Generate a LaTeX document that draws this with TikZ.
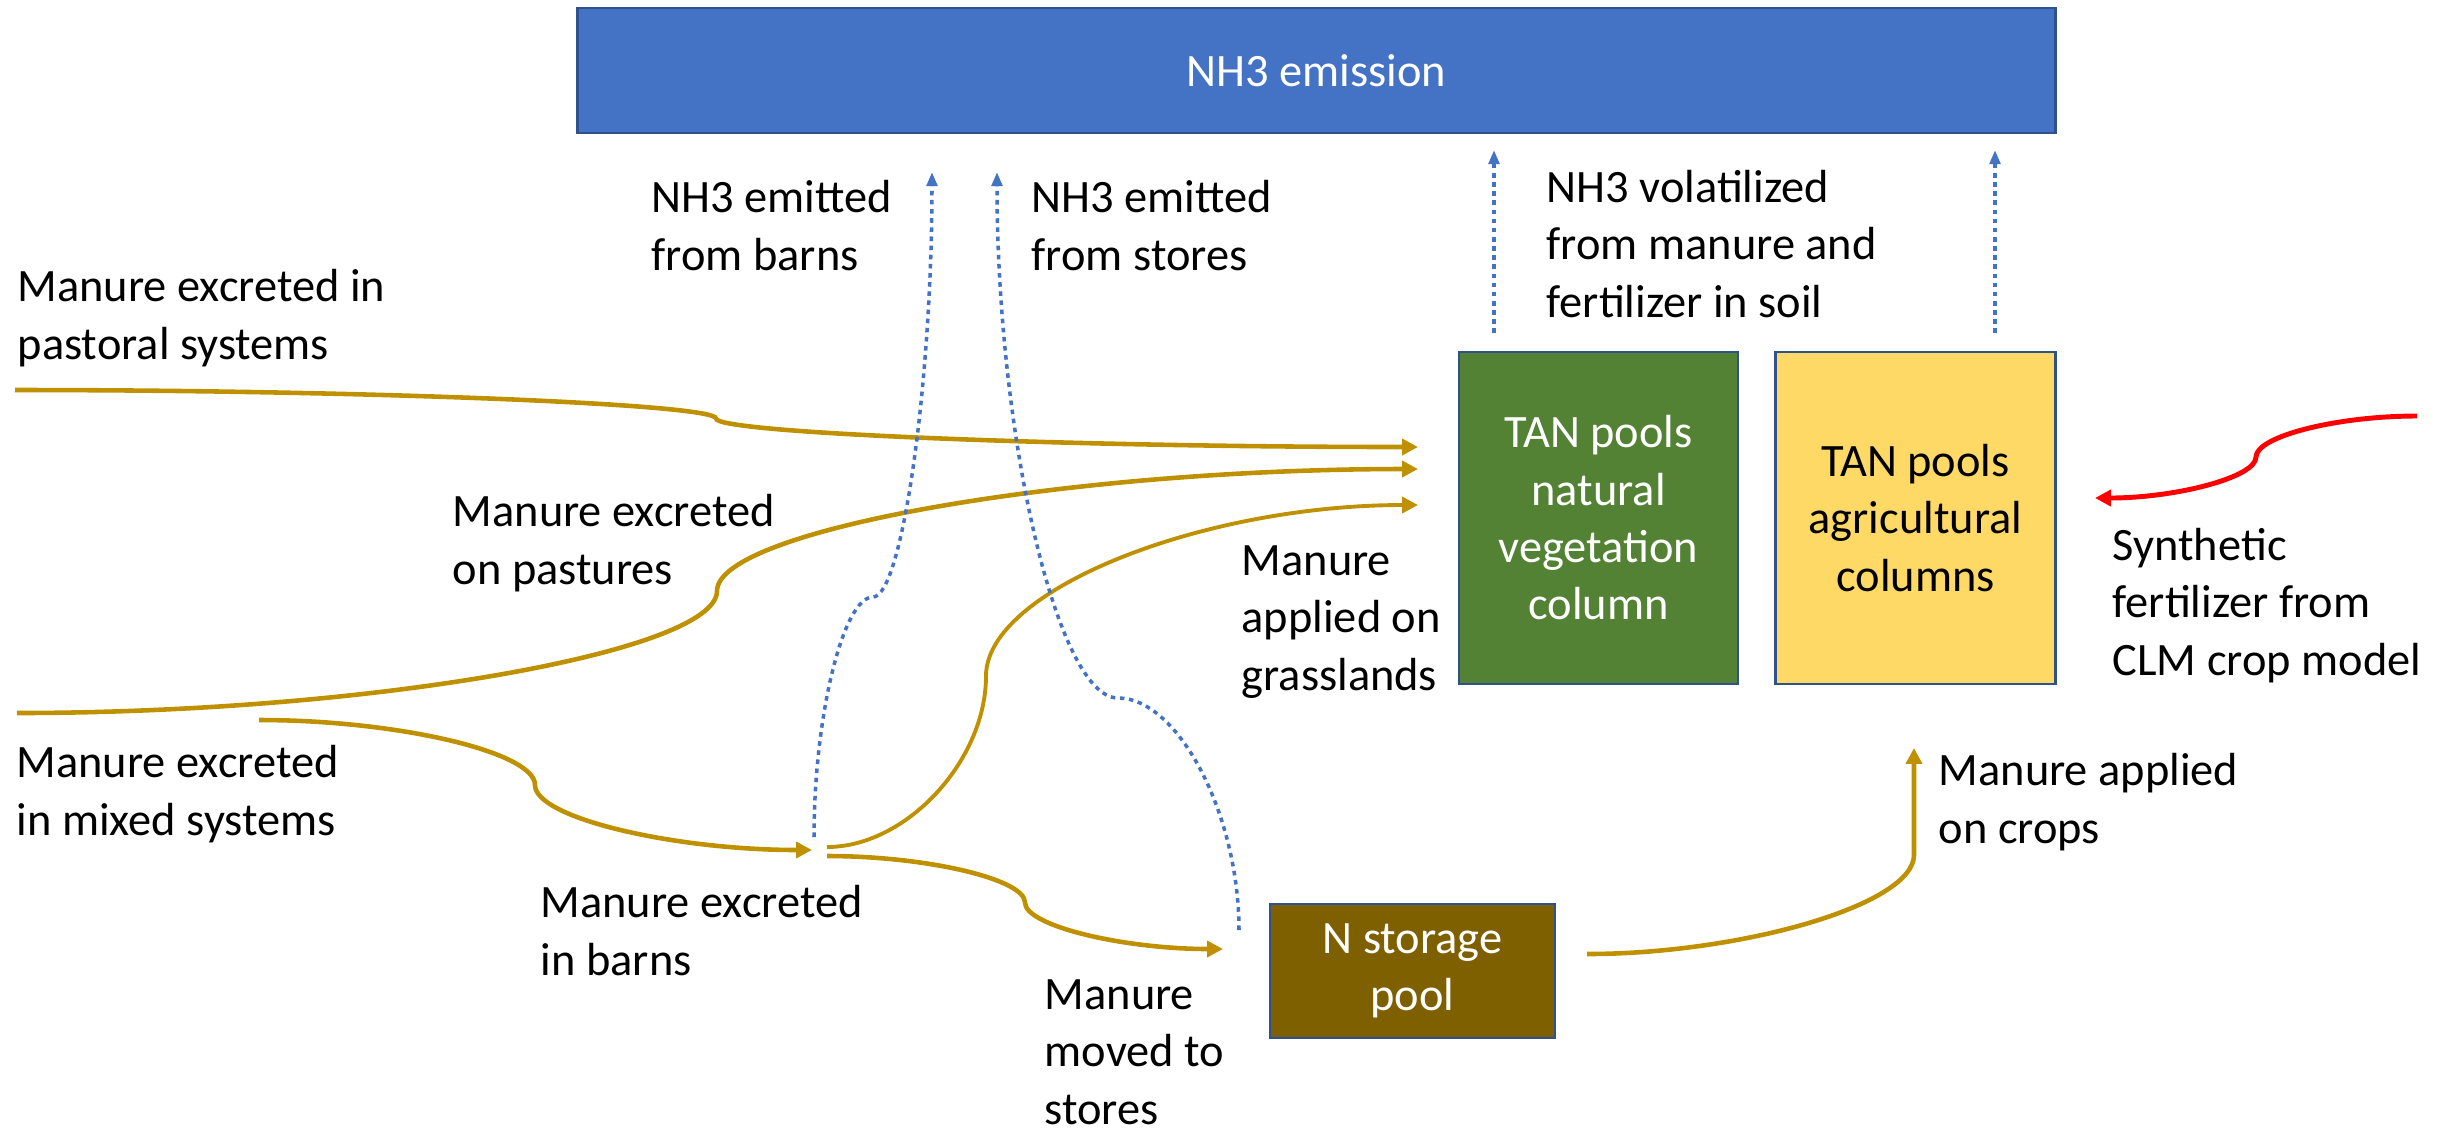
\documentclass[tikz,border=0pt]{standalone}
\usepackage{fontspec}
\setmainfont{Carlito}
\usepackage{xcolor}
\usepackage{tikz}
\usetikzlibrary{arrows.meta}

\definecolor{emisblue}{HTML}{4472C4}
\definecolor{edgeblue}{HTML}{2F528F}
\definecolor{natgreen}{HTML}{548235}
\definecolor{agyellow}{HTML}{FFD966}
\definecolor{storebrown}{HTML}{7F6000}
\definecolor{flowgold}{HTML}{BF9000}
\definecolor{fertred}{HTML}{FF0000}

\begin{document}
\begin{tikzpicture}[x=0.01cm,y=-0.01cm,
		every node/.style={font=\fontsize{13.2}{16.3}\selectfont},
		pool/.style={draw=edgeblue,line width=0.7pt,align=center,inner sep=0pt},
		lbl/.style={anchor=base west,align=left,inner sep=0pt},
		manure/.style={draw=flowgold,line width=1.3pt,-{Triangle[length=4.5pt,width=4.5pt]}},
		gas/.style={draw=emisblue,line width=1pt,dash pattern=on 1.3pt off 1.3pt,-{Triangle[length=4pt,width=3pt]}},
		fert/.style={draw=fertred,line width=1.4pt,-{Triangle[length=4.5pt,width=4.5pt]}}]
		
		\useasboundingbox (0,0) rectangle (2453,1132);
		
		% pools
		\node[pool,fill=emisblue,text=white,minimum width=14.77cm,minimum height=1.25cm] (emission) at (1316.5,70.5) {NH3 emission};
		\node[pool,fill=natgreen,text=white,minimum width=2.79cm,minimum height=3.32cm] (tanNat) at (1598.5,518) {TAN pools\\natural\\vegetation\\column};
		\node[pool,fill=agyellow,minimum width=2.8cm,minimum height=3.32cm] (tanAg) at (1915.5,518) {TAN pools\\agricultural\\columns};
		\node[pool,fill=storebrown,text=white,minimum width=2.85cm,minimum height=1.34cm] (storage) at (1412.5,971) {N storage\\pool};
		
		% labels (placed at the baseline of their last line)
		\node[lbl] (lblBarnGas) at (651,270) {NH3 emitted\\from barns};
		\node[lbl] (lblStoreGas) at (1031,270) {NH3 emitted\\from stores};
		\node[lbl] (lblSoilGas) at (1546,317) {NH3 volatilized\\from manure and\\fertilizer in soil};
		\node[lbl] (lblPastoral) at (17,359) {Manure excreted in\\pastoral systems};
		\node[lbl] (lblPastures) at (452,584) {Manure excreted\\on pastures};
		\node[lbl] (lblGrass) at (1241,690) {Manure\\applied on\\grasslands};
		\node[lbl] (lblMixed) at (16,835) {Manure excreted\\in mixed systems};
		\node[lbl] (lblBarns) at (540,975) {Manure excreted\\in barns};
		\node[lbl] (lblMoved) at (1044,1124) {Manure\\moved to\\stores};
		\node[lbl] (lblCrops) at (1938,843) {Manure applied\\on crops};
		\node[lbl] (lblSynth) at (2112,675) {Synthetic\\fertilizer from\\CLM crop model};
		
		% ends of the connectors
		\coordinate (pastoralIn) at (15,390);
		\coordinate (pastoralOut) at (1418,447);
		\coordinate (pasturesIn) at (17,713);
		\coordinate (pasturesOut) at (1418,469);
		\coordinate (mixedIn) at (259,720);
		\coordinate (barnIn) at (812,850);
		\coordinate (barnGrass) at (827,847);
		\coordinate (barnStore) at (827,856);
		\coordinate (grassOut) at (1418,505);
		\coordinate (storeIn) at (1223,949);
		\coordinate (storeOut) at (1587,954);
		\coordinate (cropsOut) at (1914,748);
		\coordinate (barnGas) at (814,837);
		\coordinate (barnGasTop) at (932,172);
		\coordinate (storeGas) at (1239,930);
		\coordinate (storeGasTop) at (997,172);
		\coordinate (natGas) at (1494,333);
		\coordinate (natGasTop) at (1494,150);
		\coordinate (agGas) at (1995,333);
		\coordinate (agGasTop) at (1995,150);
		\coordinate (synthIn) at (2417,416);
		\coordinate (synthOut) at (2095,498);
		
		% manure flows
		\draw[manure] (pastoralIn) .. controls (365,390) and (716,404) .. (716,418.5) .. controls (716,433) and (1067,447) .. (pastoralOut);
		\draw[manure] (pasturesIn) .. controls (367,713) and (717,652) .. (717,591) .. controls (717,530) and (1068,469) .. (pasturesOut);
		\draw[manure] (mixedIn) .. controls (397,720) and (535,752) .. (535,785) .. controls (535,818) and (674,850) .. (barnIn);
		\draw[manure,line width=1.1pt] (barnGrass) .. controls (906,847) and (986,761) .. (986,676) .. controls (986,590) and (1202,505) .. (grassOut);
		\draw[manure] (barnStore) .. controls (926,856) and (1025,879) .. (1025,902.5) .. controls (1025,926) and (1124,949) .. (storeIn);
		\draw[manure] (storeOut) .. controls (1740,954) and (1914,905) .. (1914,855) -- (cropsOut);
		
		% fertilizer
		\draw[fert] (synthIn) .. controls (2336,416) and (2256,436.5) .. (2256,457) .. controls (2256,477.5) and (2175,498) .. (synthOut);
		
		% NH3 losses
		\draw[gas] (barnGas) .. controls (814,717) and (843,597) .. (873,597) .. controls (902,597) and (932,384) .. (barnGasTop);
		\draw[gas] (storeGas) .. controls (1239,814) and (1178,698) .. (1118,698) .. controls (1057,698) and (997,435) .. (storeGasTop);
		\draw[gas] (natGas) -- (natGasTop);
		\draw[gas] (agGas) -- (agGasTop);
	\end{tikzpicture}
\end{document}
